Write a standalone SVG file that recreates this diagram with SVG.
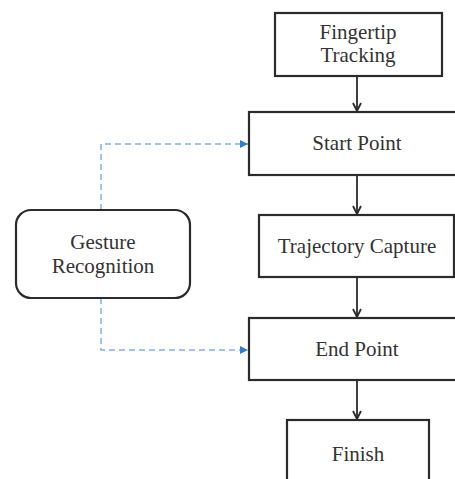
<svg xmlns="http://www.w3.org/2000/svg" width="455" height="479" viewBox="0 0 455 479">
<style>
.box{fill:#fff;stroke:#2b2b2b;stroke-width:2.2}
.t{font-family:'Liberation Serif','Times New Roman','DejaVu Serif',serif;font-size:21px;fill:#333;text-anchor:middle}
.flow{stroke:#2b2b2b;stroke-width:1.8;fill:none}
.dash{stroke:#7fb0e6;stroke-width:1.5;fill:none;stroke-dasharray:6 4}
</style>
<defs>
<marker id="open" viewBox="0 0 10 10" refX="9" refY="5" markerWidth="10" markerHeight="10" markerUnits="userSpaceOnUse" orient="auto">
<path d="M1,1 L9,5 L1,9" fill="none" stroke="#2b2b2b" stroke-width="1.8"/>
</marker>
<marker id="blue" viewBox="0 0 10 10" refX="10" refY="5" markerWidth="8" markerHeight="8" markerUnits="userSpaceOnUse" orient="auto">
<path d="M0,0 L10,5 L0,10 Z" fill="#2f7fd6"/>
</marker>
</defs>
<rect width="455" height="479" fill="#fff"/>
<g id="connectors">
<line class="flow" x1="357" y1="76" x2="357" y2="111" marker-end="url(#open)"/>
<line class="flow" x1="357" y1="175" x2="357" y2="214" marker-end="url(#open)"/>
<line class="flow" x1="357" y1="277" x2="357" y2="317" marker-end="url(#open)"/>
<line class="flow" x1="357" y1="380" x2="357" y2="419" marker-end="url(#open)"/>
<path class="dash" d="M101,210 V144 H248" marker-end="url(#blue)"/>
<path class="dash" d="M101,298 V350 H248" marker-end="url(#blue)"/>
</g>
<g id="fingertip">
<rect class="box" x="275" y="13" width="167" height="63"/>
<text class="t" x="358" y="39">Fingertip</text>
<text class="t" x="358" y="62">Tracking</text>
</g>
<g id="start">
<rect class="box" x="249" y="112" width="216" height="63"/>
<text class="t" x="357" y="150">Start Point</text>
</g>
<g id="trajectory">
<rect class="box" x="259" y="215" width="195" height="62"/>
<text class="t" x="357" y="253">Trajectory Capture</text>
</g>
<g id="end">
<rect class="box" x="249" y="318" width="216" height="62"/>
<text class="t" x="357" y="356">End Point</text>
</g>
<g id="finish">
<rect class="box" x="287" y="420" width="142" height="70"/>
<text class="t" x="358" y="461">Finish</text>
</g>
<g id="gesture">
<rect class="box" x="16" y="210" width="174" height="88" rx="15"/>
<text class="t" x="103" y="249">Gesture</text>
<text class="t" x="103" y="273">Recognition</text>
</g>
</svg>
